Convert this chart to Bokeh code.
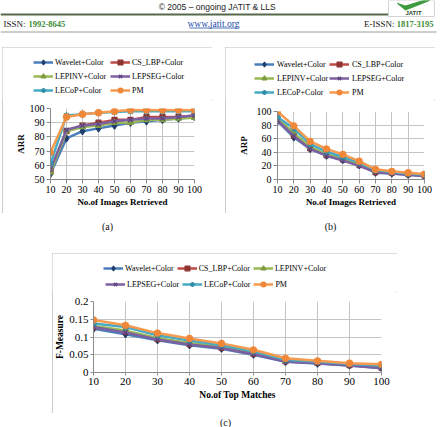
from bokeh.plotting import figure
from bokeh.models import Range1d, FixedTicker, Legend, LegendItem, Spacer
from bokeh.layouts import column, row
from bokeh.core.properties import value
from bokeh.embed import file_html
from bokeh.resources import INLINE

# ---------------- data ----------------
x_vals = [10, 20, 30, 40, 50, 60, 70, 80, 90, 100]
x_labels = ["10", "20", "30", "40", "50", "60", "70", "80", "90", "100"]
series_names = ["Wavelet+Color", "CS_LBP+Color", "LEPINV+Color",
                "LEPSEG+Color", "LECoP+Color", "PM"]

# (a) ARR
arr_wavelet = [54, 79, 84, 86, 88, 90, 91, 92, 93, 94]
arr_cslbp = [56, 84, 88, 90, 92, 92, 94, 94, 94, 95]
arr_lepinv = [55, 84, 87, 88, 90, 90, 92, 92, 93, 93.5]
arr_lepseg = [57, 85, 88, 89, 91, 92, 93, 93, 94, 95]
arr_lecop = [61, 95, 96, 97, 97.5, 98, 98, 98, 98, 98]
arr_pm = [69, 94, 96, 97, 98, 99, 99, 99, 99, 99]
arr_ticks = [50, 60, 70, 80, 90, 100]
arr_tick_labels = ["50", "60", "70", "80", "90", "100"]

# (b) ARP
arp_wavelet = [86, 62, 45, 35, 29, 21, 10, 9, 7, 5]
arp_cslbp = [88, 65, 46, 36, 30, 22, 11, 10, 8, 6]
arp_lepinv = [90, 68, 48, 37, 31, 22, 12, 10, 8, 6]
arp_lepseg = [87, 64, 45, 35, 28, 20, 11, 9, 7, 5]
arp_lecop = [92, 75, 52, 41, 33, 25, 14, 11, 9, 7]
arp_pm = [100, 79, 56, 45, 37, 27, 15, 12, 10, 8]
arp_ticks = [0, 20, 40, 60, 80, 100]
arp_tick_labels = ["0", "20", "40", "60", "80", "100"]

# (c) F-Measure
fm_wavelet = [0.123, 0.108, 0.091, 0.077, 0.067, 0.050, 0.030, 0.025, 0.020, 0.012]
fm_cslbp = [0.128, 0.115, 0.094, 0.080, 0.070, 0.053, 0.032, 0.027, 0.021, 0.014]
fm_lepinv = [0.131, 0.118, 0.097, 0.083, 0.072, 0.055, 0.033, 0.028, 0.022, 0.016]
fm_lepseg = [0.128, 0.113, 0.093, 0.079, 0.069, 0.052, 0.031, 0.026, 0.020, 0.013]
fm_lecop = [0.138, 0.128, 0.105, 0.090, 0.077, 0.060, 0.036, 0.030, 0.024, 0.020]
fm_pm = [0.148, 0.133, 0.111, 0.096, 0.082, 0.064, 0.040, 0.033, 0.026, 0.023]
fm_ticks = [0, 0.05, 0.1, 0.15, 0.2]
fm_tick_labels = ["0", "0.05", "0.1", "0.15", "0.2"]

# ---------------- styles ----------------
SERIF = "Liberation Serif"
SANS = "Liberation Sans"
line_colors = ["#4A7EBB", "#BE4B48", "#98B954", "#7D60A0", "#46AAC5", "#F59A4E"]
marker_colors = ["#1F3E6E", "#8E3432", "#7E9C40", "#5E4580", "#2F8FA8", "#F0883A"]
markers = ["diamond", "square", "triangle", "x", "asterisk", "circle"]
marker_sizes = [7, 5, 6, 6, 7, 6]
BOX = {"outline": "1px solid #bdbdbd", "outline-offset": "-1px"}


def canvas(w, h):
    p = figure(width=w, height=h, x_range=Range1d(0, w), y_range=Range1d(h, 0),
               toolbar_location=None, output_backend="svg", min_border=0,
               x_axis_location=None, y_axis_location=None, frame_align=False,
               outline_line_color=None, background_fill_color="white",
               border_fill_color="white")
    p.grid.visible = False
    return p


def make_chart(w, h, leg_h, borders, yticks, ylabels, ytitle, xtitle, series, legends,
               tick_px, title_px, tick_out, label_standoff, ytitle_standoff,
               xtitle_standoff, leg_px):
    left, right, top, bottom = borders
    p = figure(width=w, height=h - leg_h,
               x_range=Range1d(x_vals[0], x_vals[-1]),
               y_range=Range1d(yticks[0], yticks[-1]),
               toolbar_location=None, output_backend="svg", frame_align=False,
               min_border_left=left, min_border_right=right,
               min_border_top=top, min_border_bottom=bottom,
               background_fill_color="white", border_fill_color="white",
               outline_line_color=None)
    xt = FixedTicker(ticks=x_vals)
    yt = FixedTicker(ticks=yticks)
    p.xaxis.ticker = xt
    p.xgrid.ticker = xt
    p.yaxis.ticker = yt
    p.ygrid.ticker = yt
    p.xaxis.major_label_overrides = {t: l for t, l in zip(x_vals, x_labels)}
    p.yaxis.major_label_overrides = {t: l for t, l in zip(yticks, ylabels)}
    p.grid.grid_line_color = "#c4c4c4"
    p.grid.grid_line_width = 1
    for ax in (p.xaxis[0], p.yaxis[0]):
        ax.major_label_text_font = SERIF
        ax.major_label_text_font_size = f"{tick_px}px"
        ax.major_label_text_color = "black"
        ax.axis_label_text_font = SERIF
        ax.axis_label_text_font_size = f"{title_px}px"
        ax.axis_label_text_font_style = "bold"
        ax.axis_label_text_color = "black"
        ax.axis_line_color = "#8a8a8a"
        ax.major_tick_line_color = "#8a8a8a"
        ax.minor_tick_line_color = None
        ax.major_tick_out = tick_out
        ax.major_tick_in = 0
        ax.major_label_standoff = label_standoff
    p.yaxis.axis_label = ytitle
    p.xaxis.axis_label = xtitle
    p.yaxis.axis_label_standoff = ytitle_standoff
    p.xaxis.axis_label_standoff = xtitle_standoff

    for i, vals in enumerate(series):
        p.line(x_vals, vals, line_color=line_colors[i], line_width=2.5)
        p.scatter(x_vals, vals, marker=markers[i], size=marker_sizes[i],
                  fill_color=marker_colors[i], line_color=marker_colors[i],
                  line_width=1.3)

    # legend strip: legend keys styled like the series (one off-screen point each)
    lg = canvas(w, leg_h)
    keys = []
    for i in range(len(series)):
        ln = lg.line([-50, -40], [-50, -50], line_color=line_colors[i], line_width=2.5)
        sc = lg.scatter([-50], [-50], marker=markers[i], size=marker_sizes[i],
                        fill_color=marker_colors[i], line_color=marker_colors[i],
                        line_width=1.3)
        keys.append([ln, sc])
    for idx, orient, vx, vy, spacing, standoff in legends:
        leg = Legend(items=[LegendItem(label=value(series_names[i]), renderers=keys[i])
                            for i in idx],
                     location=(vx, vy), orientation=orient,
                     glyph_width=20, glyph_height=12, label_height=12,
                     label_standoff=standoff, spacing=spacing, padding=0, margin=0,
                     border_line_color=None, background_fill_alpha=0,
                     label_text_font=SERIF, label_text_font_size=f"{leg_px}px",
                     label_text_color="black")
        lg.add_layout(leg)
    return column(lg, p, styles=BOX)


# ---------------- header ----------------
hdr = canvas(442, 47)
hdr.text(x=[218], y=[6], text=["\u00a9 2005 \u2013 ongoing  JATIT & LLS"],
         text_font=value(SANS), text_font_size=value("8.5px"),
         text_align="center", text_baseline="middle", text_color="#222222")
hdr.line([0, 388], [14, 14], line_color="#56684a", line_width=2)
hdr.quad(left=[388], right=[434], top=[0], bottom=[16], fill_color="white",
         line_color="#d4d4d4", line_width=1)
hdr.patch([397, 405, 429, 423, 405], [3, 9.5, 0, 0, 5.5], fill_color="#3d9a3d",
          line_color="#3d9a3d")
hdr.text(x=[413], y=[12.5], text=["JATIT"], text_font=value(SANS),
         text_font_size=value("6px"), text_font_style="bold",
         text_align="center", text_baseline="middle", text_color="#2d4a2d")
hdr.text(x=[3], y=[23], text=["ISSN:"], text_font=value(SERIF),
         text_font_size=value("9px"), text_align="left", text_baseline="middle",
         text_color="#111111")
hdr.text(x=[28], y=[23], text=["1992-8645"], text_font=value(SERIF),
         text_font_size=value("8.5px"), text_font_style="bold", text_align="left",
         text_baseline="middle", text_color="#3d8b37")
hdr.text(x=[213], y=[23], text=["www.jatit.org"], text_font=value(SERIF),
         text_font_size=value("9.5px"), text_align="center", text_baseline="middle",
         text_color="#2450a8")
hdr.line([189, 237], [27.5, 27.5], line_color="#2450a8", line_width=0.8)
hdr.text(x=[394], y=[23], text=["E-ISSN:"], text_font=value(SERIF),
         text_font_size=value("9px"), text_align="right", text_baseline="middle",
         text_color="#111111")
hdr.text(x=[433], y=[23], text=["1817-3195"], text_font=value(SERIF),
         text_font_size=value("8.5px"), text_font_style="bold", text_align="right",
         text_baseline="middle", text_color="#3d8b37")
hdr.line([0, 436], [31.5, 31.5], line_color="#9a9e92", line_width=1)

# ---------------- charts ----------------
# box (a): page x 2..212, y 47..213 ; legend strip 47..100
fig_a = make_chart(210, 166, 53, (48, 18, 8, 34), arr_ticks, arr_tick_labels, "ARR",
                   "No.of Images Retrieved",
                   [arr_wavelet, arr_cslbp, arr_lepinv, arr_lepseg, arr_lecop, arr_pm],
                   [([0, 2, 4], "vertical", 31, 4, 2, 2),
                    ([1, 3, 5], "vertical", 108, 4, 2, 2)],
                   10, 9, 4, 2, 1, 1, 8)

# box (b): page x 225..435, y 47..213
fig_b = make_chart(210, 166, 53, (52, 11, 11, 34), arp_ticks, arp_tick_labels, "ARP",
                   "No.of Images Retrieved",
                   [arp_wavelet, arp_cslbp, arp_lepinv, arp_lepseg, arp_lecop, arp_pm],
                   [([0, 2, 4], "vertical", 29, 2, 2, 3),
                    ([1, 3, 5], "vertical", 104, 2, 2, 3)],
                   10, 9, 4, 2, 5, 1, 8)

# box (c): page x 52..397, y 253..413 ; legend strip 253..292
fig_c = make_chart(345, 160, 39, (38, 16, 9, 41), fm_ticks, fm_tick_labels, "F-Measure",
                   "No.of Top Matches",
                   [fm_wavelet, fm_cslbp, fm_lepinv, fm_lepseg, fm_lecop, fm_pm],
                   [([0, 1, 2], "horizontal", 51, 18, 3, 2),
                    ([3, 4, 5], "horizontal", 53, 2, 3, 2)],
                   11, 9.5, 3, 2, 1, 2, 8)

cap_ab = canvas(442, 40)
cap_ab.text(x=[107, 330], y=[13, 13], text=["(a)", "(b)"], text_font=value(SERIF),
            text_font_size=value("10px"), text_align="center", text_baseline="middle",
            text_color="#111111")
cap_c = canvas(442, 14)
cap_c.text(x=[225], y=[8.5], text=["(c)"], text_font=value(SERIF),
           text_font_size=value("10px"), text_align="center", text_baseline="middle",
           text_color="#111111")

layout = column(
    hdr,
    row(Spacer(width=2, height=166), fig_a, Spacer(width=13, height=166), fig_b,
        Spacer(width=7, height=166)),
    cap_ab,
    row(Spacer(width=52, height=160), fig_c, Spacer(width=45, height=160)),
    cap_c,
)

open("out.html", "w").write(file_html(layout, INLINE))
